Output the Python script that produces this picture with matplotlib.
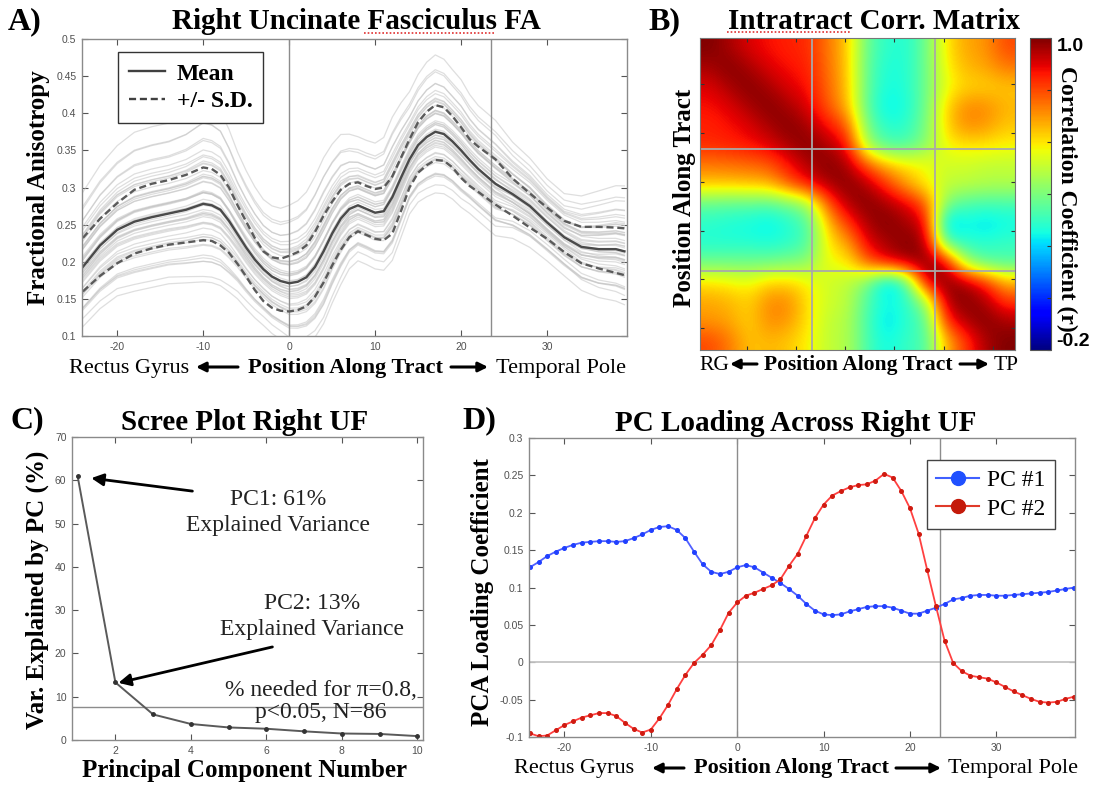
import numpy as np
import matplotlib
matplotlib.use("Agg")
import matplotlib.pyplot as plt
from matplotlib.lines import Line2D
from matplotlib.patches import FancyArrowPatch

plt.rcParams['font.family'] = ['Liberation Sans', 'DejaVu Sans']
plt.rcParams['axes.unicode_minus'] = False
SERIF = ['Liberation Serif', 'DejaVu Serif']

# ---------------- data ----------------
# Panel A: FA profile along the tract
xa = [-24, -22, -20, -18, -16, -14, -12, -10, -9, -8, -7, -6, -5, -4, -3, -2, -1, 0, 1, 2,
      3, 4, 5, 6, 7, 8, 9, 10, 11, 12, 13, 14, 15, 16, 17, 18, 19, 20, 21, 22, 24, 26, 28,
      30, 32, 34, 36, 38, 39]
fa_mean = [0.193, 0.222, 0.243, 0.254, 0.260, 0.265, 0.270, 0.278, 0.276, 0.270, 0.255,
           0.237, 0.219, 0.203, 0.190, 0.180, 0.174, 0.171, 0.173, 0.179, 0.193, 0.214,
           0.238, 0.258, 0.271, 0.276, 0.271, 0.266, 0.268, 0.287, 0.313, 0.338, 0.357,
           0.368, 0.375, 0.372, 0.362, 0.350, 0.337, 0.325, 0.305, 0.291, 0.275, 0.253,
           0.233, 0.220, 0.217, 0.217, 0.214]
fa_upper = [0.232, 0.258, 0.279, 0.297, 0.305, 0.310, 0.317, 0.327, 0.325, 0.317, 0.300,
            0.276, 0.254, 0.232, 0.214, 0.206, 0.204, 0.208, 0.213, 0.222, 0.240, 0.262,
            0.281, 0.297, 0.305, 0.307, 0.302, 0.298, 0.300, 0.315, 0.340, 0.365, 0.388,
            0.402, 0.411, 0.408, 0.396, 0.381, 0.365, 0.355, 0.338, 0.312, 0.292, 0.273,
            0.255, 0.247, 0.247, 0.246, 0.245]
fa_lower = [0.160, 0.181, 0.198, 0.211, 0.218, 0.223, 0.226, 0.229, 0.228, 0.222, 0.212,
            0.197, 0.180, 0.162, 0.147, 0.138, 0.134, 0.133, 0.135, 0.140, 0.153, 0.172,
            0.195, 0.216, 0.233, 0.241, 0.236, 0.231, 0.229, 0.238, 0.268, 0.300, 0.320,
            0.330, 0.337, 0.336, 0.327, 0.313, 0.302, 0.294, 0.277, 0.262, 0.246, 0.231,
            0.213, 0.198, 0.191, 0.185, 0.182]
# individual subjects: z-score relative to the S.D. band and a small offset
subj_z = [-2.2, -1.9, -1.7, -1.5, -1.4, -1.3, -1.2, -1.1, -1.0, -0.9, -0.85, -0.75, -0.7,
          -0.6, -0.5, -0.45, -0.4, -0.3, -0.25, -0.2, -0.1, -0.05, 0.0, 0.05, 0.1, 0.2,
          0.25, 0.3, 0.4, 0.45, 0.5, 0.6, 0.7, 0.75, 0.8, 0.9, 1.0, 1.1, 1.2, 1.3, 1.4,
          1.5, 1.7, 1.9, 2.1, 2.4, 2.8, -0.55, 0.35, 0.65]
subj_off = [0.010, -0.012, 0.006, -0.004, 0.014, -0.009, 0.003, -0.015, 0.008, 0.000,
            -0.006, 0.012, -0.010, 0.004, -0.002, 0.009, -0.013, 0.007, -0.005, 0.011,
            -0.008, 0.002, -0.011, 0.013, -0.003, 0.005, -0.014, 0.001, 0.010, -0.007,
            0.006, -0.012, 0.003, 0.008, -0.004, 0.011, -0.009, 0.000, 0.007, -0.006,
            0.004, -0.010, 0.002, -0.005, 0.006, -0.008, 0.000, 0.012, -0.011, 0.005]
fa_yticklabels = ['0.1', '0.15', '0.2', '0.25', '0.3', '0.35', '0.4', '0.45', '0.5']
a_xticks = [-20, -10, 0, 10, 20, 30]

# Panel B: intratract correlation matrix (coarse 16 x 16 reading, RG -> TP)
corr_coarse = [
    [1.00, 0.955, 0.90, 0.87, 0.85, 0.84, 0.74, 0.64, 0.36, 0.28, 0.27, 0.38, 0.60, 0.68, 0.70, 0.80],
    [0.955, 1.00, 0.955, 0.90, 0.87, 0.85, 0.75, 0.64, 0.35, 0.26, 0.27, 0.38, 0.58, 0.66, 0.68, 0.74],
    [0.90, 0.955, 1.00, 0.955, 0.90, 0.87, 0.76, 0.65, 0.35, 0.25, 0.27, 0.38, 0.56, 0.62, 0.62, 0.64],
    [0.87, 0.90, 0.955, 1.00, 0.955, 0.90, 0.78, 0.66, 0.34, 0.22, 0.26, 0.38, 0.62, 0.72, 0.72, 0.66],
    [0.85, 0.87, 0.90, 0.955, 1.00, 0.955, 0.87, 0.78, 0.38, 0.27, 0.28, 0.40, 0.62, 0.72, 0.70, 0.64],
    [0.84, 0.85, 0.87, 0.90, 0.955, 1.00, 0.95, 0.88, 0.45, 0.33, 0.33, 0.42, 0.58, 0.60, 0.60, 0.58],
    [0.74, 0.75, 0.76, 0.78, 0.87, 0.95, 1.00, 0.955, 0.78, 0.65, 0.60, 0.57, 0.52, 0.52, 0.50, 0.50],
    [0.64, 0.64, 0.65, 0.66, 0.78, 0.88, 0.955, 1.00, 0.95, 0.82, 0.68, 0.58, 0.50, 0.50, 0.48, 0.48],
    [0.36, 0.35, 0.35, 0.34, 0.38, 0.45, 0.78, 0.95, 1.00, 0.96, 0.90, 0.78, 0.40, 0.33, 0.32, 0.32],
    [0.28, 0.26, 0.25, 0.22, 0.27, 0.33, 0.65, 0.82, 0.96, 1.00, 0.96, 0.90, 0.16, 0.24, 0.20, 0.24],
    [0.27, 0.27, 0.27, 0.26, 0.28, 0.33, 0.60, 0.68, 0.90, 0.96, 1.00, 0.96, 0.32, 0.28, 0.28, 0.30],
    [0.38, 0.38, 0.38, 0.38, 0.40, 0.42, 0.57, 0.58, 0.78, 0.90, 0.96, 1.00, 0.93, 0.45, 0.34, 0.33],
    [0.60, 0.58, 0.56, 0.62, 0.62, 0.58, 0.52, 0.50, 0.40, 0.16, 0.32, 0.93, 1.00, 0.955, 0.84, 0.66],
    [0.68, 0.66, 0.62, 0.72, 0.72, 0.60, 0.52, 0.50, 0.33, 0.24, 0.28, 0.45, 0.955, 1.00, 0.955, 0.82],
    [0.70, 0.68, 0.62, 0.72, 0.70, 0.60, 0.50, 0.48, 0.32, 0.20, 0.28, 0.34, 0.84, 0.955, 1.00, 0.955],
    [0.80, 0.74, 0.64, 0.66, 0.64, 0.58, 0.50, 0.48, 0.32, 0.24, 0.30, 0.33, 0.66, 0.82, 0.955, 1.00],
]
n_positions = 64
corr_ticks = [10, 20, 30, 40, 50, 60]
cbar_ticks = [-0.2, 0.0, 0.2, 0.4, 0.6, 0.8, 1.0]
cbar_ticklabels = ['-0.2', '', '', '', '', '', '1.0']

# Panel C: scree plot
pc_number = [1, 2, 3, 4, 5, 6, 7, 8, 9, 10]
var_explained = [60.9, 13.3, 5.9, 3.7, 2.9, 2.6, 2.0, 1.5, 1.4, 0.9]
threshold = 7.7
c_xticks = [2, 4, 6, 8, 10]
c_yticks = [0, 10, 20, 30, 40, 50, 60, 70]

# Panel D: PC loadings along tract
xd = list(range(-24, 40))
pc1 = [0.127, 0.134, 0.142, 0.148, 0.153, 0.157, 0.160, 0.161, 0.162, 0.162, 0.161, 0.162,
       0.166, 0.171, 0.177, 0.181, 0.182, 0.177, 0.166, 0.148, 0.131, 0.121, 0.118, 0.121,
       0.127, 0.130, 0.127, 0.120, 0.113, 0.106, 0.098, 0.089, 0.078, 0.069, 0.064, 0.063,
       0.064, 0.068, 0.071, 0.074, 0.075, 0.075, 0.073, 0.069, 0.065, 0.065, 0.069, 0.073,
       0.078, 0.084, 0.086, 0.089, 0.090, 0.090, 0.089, 0.089, 0.090, 0.091, 0.092, 0.093,
       0.094, 0.096, 0.098, 0.100]
pc2 = [-0.095, -0.099, -0.098, -0.091, -0.084, -0.079, -0.074, -0.071, -0.068, -0.068,
       -0.072, -0.081, -0.089, -0.094, -0.090, -0.075, -0.057, -0.036, -0.017, -0.001,
       0.010, 0.023, 0.043, 0.066, 0.080, 0.089, 0.093, 0.098, 0.103, 0.111, 0.129, 0.145,
       0.169, 0.193, 0.211, 0.223, 0.229, 0.234, 0.237, 0.238, 0.243, 0.252, 0.247, 0.229,
       0.206, 0.172, 0.123, 0.075, 0.029, -0.001, -0.012, -0.018, -0.020, -0.022, -0.027,
       -0.033, -0.039, -0.044, -0.049, -0.053, -0.054, -0.053, -0.049, -0.046]
d_yticks = [-0.1, -0.05, 0, 0.05, 0.1, 0.15, 0.2, 0.25, 0.3]
d_yticklabels = ['-0.1', '-0.05', '0', '0.05', '0.1', '0.15', '0.2', '0.25', '0.3']
landmarks = [0, 23.5]

# ---------------- figure ----------------
W, H = 1095, 785
fig = plt.figure(figsize=(W / 100, H / 100), dpi=100)


def rect(l, t, r, b):
    return [l / W, 1 - b / H, (r - l) / W, (b - t) / H]


def fx(px):
    return px / W


def fy(py):
    return 1 - py / H


def style(ax):
    for s in ax.spines.values():
        s.set_color('#8a8a8a')
        s.set_linewidth(1.0)
    ax.tick_params(direction='in', length=4, width=0.8, color='#555555',
                   labelsize=7.5, labelcolor='#505050', top=True, right=True, pad=4)


def ftext(px, py, s, size, bold=False, **kw):
    fig.text(fx(px), fy(py), s, family=SERIF, size=size,
             weight='bold' if bold else 'normal', **kw)


def farrow(x0, x1, y):
    arr = FancyArrowPatch((fx(x0), fy(y)), (fx(x1), fy(y)), transform=fig.transFigure,
                          arrowstyle='-|>', mutation_scale=14, lw=2.2, color='black',
                          shrinkA=0, shrinkB=0)
    fig.add_artist(arr)


# ---- Panel A ----
axA = fig.add_axes(rect(82, 39, 627, 336))
style(axA)
m = np.array(fa_mean)
half = (np.array(fa_upper) - np.array(fa_lower)) / 2
for z, o in zip(subj_z, subj_off):
    axA.plot(xa, m + z * half + o, color='#c4c4c4', lw=0.9, alpha=0.55)
for v in landmarks:
    axA.axvline(v, color='#8c8c8c', lw=1.0)
axA.plot(xa, fa_mean, color='#4a4a4a', lw=1.7)
axA.plot(xa, fa_upper, color='#5a5a5a', lw=1.7, ls=(0, (3, 1.6)))
axA.plot(xa, fa_lower, color='#5a5a5a', lw=1.7, ls=(0, (3, 1.6)))
axA.set_xlim(-24.1, 39.3)
axA.set_ylim(0.1, 0.5)
axA.set_xticks(a_xticks)
axA.set_yticks([float(t) for t in fa_yticklabels])
axA.set_yticklabels(fa_yticklabels)
legA = axA.legend([Line2D([], [], color='#404040', lw=1.7),
                   Line2D([], [], color='#404040', lw=1.7, ls=(0, (3, 1.6)))],
                  ['Mean', '+/- S.D.'], loc='upper left', bbox_to_anchor=(0.066, 0.955),
                  borderaxespad=0, prop={'family': SERIF, 'weight': 'bold', 'size': 17},
                  fancybox=False, framealpha=1, edgecolor='#333333', handlelength=1.55,
                  handletextpad=0.5, labelspacing=0.25, borderpad=0.45)
legA.get_frame().set_linewidth(1.0)

ftext(8, 29, 'A)', 23, True, ha='left', va='baseline')
ftext(356, 29, 'Right Uncinate Fasciculus FA', 21, True, ha='center', va='baseline')
fig.add_artist(Line2D([fx(364), fx(494)], [fy(33), fy(33)], color='#e03030', lw=1.2,
                      ls=(0, (1, 1.2)), transform=fig.transFigure))
ftext(39, 188, 'Fractional Anisotropy', 18, True, rotation=90, ha='center', va='center')
ftext(69, 373, 'Rectus Gyrus', 16, ha='left', va='baseline')
farrow(238, 196, 367)
ftext(345, 373, 'Position Along Tract', 16, True, ha='center', va='baseline')
farrow(451, 488, 367)
ftext(626, 373, 'Temporal Pole', 16, ha='right', va='baseline')

# ---- Panel B ----
axB = fig.add_axes(rect(700, 38, 1015, 350))
im = axB.imshow(np.array(corr_coarse), cmap='jet', vmin=-0.2, vmax=1.0,
                extent=(0.5, n_positions + 0.5, n_positions + 0.5, 0.5),
                interpolation='bicubic', aspect='auto')
for v in (23.3, 48.3):
    axB.axvline(v, color='#a9a9a9', lw=1.3)
    axB.axhline(v, color='#a9a9a9', lw=1.3)
axB.set_xticks(corr_ticks)
axB.set_yticks(corr_ticks)
axB.tick_params(direction='in', length=3, width=0.8, color='#333333', top=True,
                right=True, labelleft=False, labelbottom=False)
for s in axB.spines.values():
    s.set_color('#777777')

cax = fig.add_axes(rect(1030, 38, 1051, 350))
cb = fig.colorbar(im, cax=cax, ticks=cbar_ticks)
cax.set_yticklabels(cbar_ticklabels)
cax.tick_params(direction='in', length=3, width=0.8, color='#333333', labelsize=14, pad=4)
for lbl in cax.get_yticklabels():
    lbl.set_fontweight('bold')
    lbl.set_family(['Liberation Sans', 'DejaVu Sans'])
labs = cax.get_yticklabels()
labs[0].set_va('bottom')
labs[-1].set_va('top')
cb.outline.set_edgecolor('#555555')

ftext(648, 29, 'B)', 23, True, ha='left', va='baseline')
ftext(874, 29, 'Intratract Corr. Matrix', 21, True, ha='center', va='baseline')
fig.add_artist(Line2D([fx(727), fx(850)], [fy(32), fy(32)], color='#e03030', lw=1.2,
                      ls=(0, (1, 1.2)), transform=fig.transFigure))
ftext(685, 198, 'Position Along Tract', 18, True, rotation=90, ha='center', va='center')
ftext(1067, 199, 'Correlation Coefficient (r)', 17, True, rotation=270, ha='center',
      va='center')
ftext(699, 370, 'RG', 15.5, ha='left', va='baseline')
farrow(757, 730, 364)
ftext(858, 370, 'Position Along Tract', 15.5, True, ha='center', va='baseline')
farrow(960, 989, 364)
ftext(994, 370, 'TP', 15.5, ha='left', va='baseline')

# ---- Panel C ----
axC = fig.add_axes(rect(72, 437, 423, 740))
style(axC)
axC.axhline(threshold, color='#8c8c8c', lw=1.0)
axC.plot(pc_number, var_explained, color='#5a5a5a', lw=1.4, marker='o', ms=2.5,
         mfc='#333333', mec='#333333')
axC.set_xlim(0.85, 10.15)
axC.set_ylim(0, 70)
axC.set_xticks(c_xticks)
axC.set_yticks(c_yticks)
apc = dict(arrowstyle='-|>', color='black', lw=2.0, mutation_scale=18, shrinkA=0, shrinkB=0)
axC.annotate('', xy=(1.36, 60.5), xytext=(4.04, 57.5), arrowprops=apc)
axC.annotate('', xy=(2.08, 13.2), xytext=(6.16, 21.5), arrowprops=apc)
axC.text(6.3, 52.6, 'PC1: 61%\nExplained Variance', family=SERIF, size=17, ha='center',
         va='center', linespacing=1.3, color='#222222')
axC.text(7.2, 28.6, 'PC2: 13%\nExplained Variance', family=SERIF, size=17, ha='center',
         va='center', linespacing=1.3, color='#222222')
axC.text(7.44, 8.9, '% needed for \u03c0=0.8,\np<0.05, N=86', family=SERIF, size=17,
         ha='center', va='center', linespacing=1.1, color='#222222')

ftext(10, 428, 'C)', 23, True, ha='left', va='baseline')
ftext(245, 430, 'Scree Plot Right UF', 21, True, ha='center', va='baseline')
ftext(37, 590, 'Var. Explained by PC (%)', 18, True, rotation=90, ha='center', va='center')
ftext(245, 777, 'Principal Component Number', 18, True, ha='center', va='baseline')

# ---- Panel D ----
axD = fig.add_axes(rect(529, 438, 1075, 737))
style(axD)
axD.axhline(0, color='#c4c4c4', lw=1.3)
for v in landmarks:
    axD.axvline(v, color='#8c8c8c', lw=1.0)
axD.plot(xd, pc1, color='#5060ff', lw=1.3, marker='o', ms=2.6, mfc='#2040ff', mec='#2040ff')
axD.plot(xd, pc2, color='#ff4040', lw=1.3, marker='o', ms=2.6, mfc='#d01a10', mec='#d01a10')
axD.set_xlim(-24.1, 39.1)
axD.set_ylim(-0.1, 0.3)
axD.set_xticks(a_xticks)
axD.set_yticks(d_yticks)
axD.set_yticklabels(d_yticklabels)
legD = axD.legend([Line2D([], [], color='#4060ff', lw=1.5, marker='o', ms=10,
                          mfc='#2050ff', mec='#2050ff'),
                   Line2D([], [], color='#e03a2a', lw=1.5, marker='o', ms=10,
                          mfc='#c41a0a', mec='#c41a0a')],
                  ['PC #1', 'PC #2'], loc='upper left', bbox_to_anchor=(0.729, 0.926),
                  borderaxespad=0, prop={'family': SERIF, 'size': 17}, fancybox=False,
                  framealpha=1, edgecolor='#444444', handlelength=1.8, handletextpad=0.35,
                  labelspacing=0.3, borderpad=0.4)
legD.get_frame().set_linewidth(1.0)

ftext(462, 428, 'D)', 23, True, ha='left', va='baseline')
ftext(796, 431, 'PC Loading Across Right UF', 21, True, ha='center', va='baseline')
ftext(483, 592, 'PCA Loading Coefficient', 18, True, rotation=90, ha='center', va='center')
ftext(514, 773, 'Rectus Gyrus', 16, ha='left', va='baseline')
farrow(684, 652, 768)
ftext(791, 773, 'Position Along Tract', 16, True, ha='center', va='baseline')
farrow(896, 941, 768)
ftext(1078, 773, 'Temporal Pole', 16, ha='right', va='baseline')

fig.savefig('out.png', dpi=100)
